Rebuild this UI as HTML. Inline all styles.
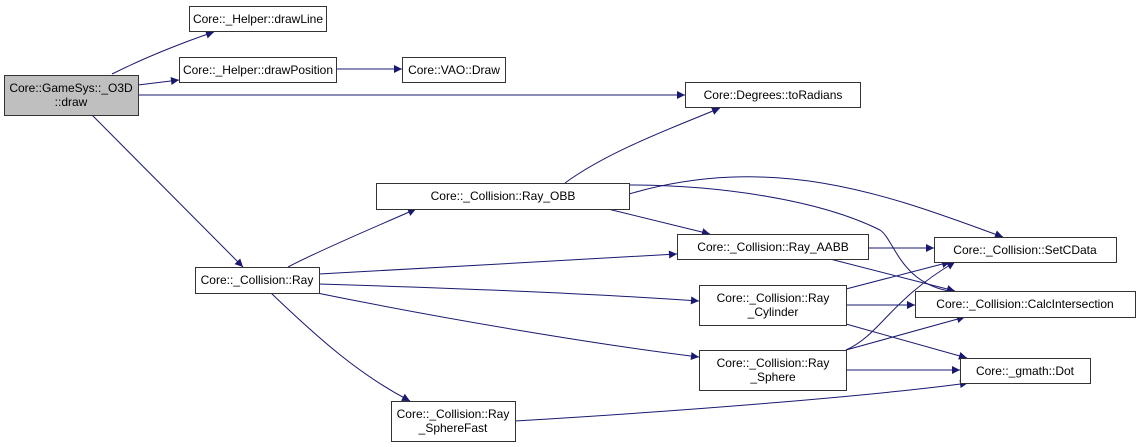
<!DOCTYPE html>
<html><head><style>
body{margin:0;background:#fff;}
svg{display:block}
text{font-family:"Liberation Sans",Arial,sans-serif;font-size:12px;fill:#000}
</style></head><body>
<svg width="1140" height="447" viewBox="0 0 1140 447">
<defs><marker id="a" viewBox="0 0 10 10" refX="10" refY="5" markerWidth="10" markerHeight="8" markerUnits="userSpaceOnUse" orient="auto"><path d="M0,0L10,5L0,10z" fill="#191970"/></marker></defs>
<g fill="none" stroke="#191970" stroke-width="1" marker-end="url(#a)">
<path d="M112,74 C150,55 190,40 214,32"/>
<path d="M138,85 L179,80"/>
<path d="M336,69 L402,69"/>
<path d="M138,95 L685,95"/>
<path d="M92,115 L243,267"/>
<path d="M288,267 C320,250 380,225 416,209"/>
<path d="M319,274 C420,268 580,260 677,254"/>
<path d="M319,284 C450,288 600,294 699,301"/>
<path d="M317,293 C450,320 600,345 699,357"/>
<path d="M271,293 C320,340 360,375 410,401"/>
<path d="M565,183 C610,150 680,125 720,108"/>
<path d="M629,194 C780,150 900,200 1003,237"/>
<path d="M629,185 C720,185 820,200 880,230 C895,240 900,285 955,292"/>
<path d="M608,209 L710,234"/>
<path d="M868,248 L934,248"/>
<path d="M830,259 L955,291"/>
<path d="M846,289 L950,262"/>
<path d="M846,305 L915,305"/>
<path d="M846,324 L967,358"/>
<path d="M846,350 C880,335 890,300 955,262"/>
<path d="M846,350 L965,317"/>
<path d="M846,370 L960,370"/>
<path d="M515,421 C700,410 880,395 968,383"/>
</g>
<g stroke="#333" stroke-width="1">
<rect x="4.5" y="75.5" width="134" height="40" fill="#bfbfbf"/>
<rect x="189.5" y="6.5" width="137" height="25" fill="#fff"/>
<rect x="179.5" y="57.5" width="157" height="25" fill="#fff"/>
<rect x="402.5" y="57.5" width="103" height="25" fill="#fff"/>
<rect x="685.5" y="82.5" width="175" height="25" fill="#fff"/>
<rect x="195.5" y="267.5" width="124" height="26" fill="#fff"/>
<rect x="376.5" y="183.5" width="253" height="26" fill="#fff"/>
<rect x="391.5" y="401.5" width="124" height="40" fill="#fff"/>
<rect x="677.5" y="234.5" width="191" height="25" fill="#fff"/>
<rect x="699.5" y="285.5" width="147" height="40" fill="#fff"/>
<rect x="699.5" y="350.5" width="147" height="40" fill="#fff"/>
<rect x="934.5" y="237.5" width="182" height="25" fill="#fff"/>
<rect x="915.5" y="291.5" width="220" height="26" fill="#fff"/>
<rect x="960.5" y="358.5" width="130" height="25" fill="#fff"/>
</g>
<g text-anchor="middle">
<text x="71" y="92">Core::GameSys::_O3D</text><text x="71" y="106">::draw</text>
<text x="258" y="23">Core::_Helper::drawLine</text>
<text x="258" y="74">Core::_Helper::drawPosition</text>
<text x="454" y="74">Core::VAO::Draw</text>
<text x="773" y="99">Core::Degrees::toRadians</text>
<text x="257" y="284">Core::_Collision::Ray</text>
<text x="503" y="200">Core::_Collision::Ray_OBB</text>
<text x="453" y="418">Core::_Collision::Ray</text><text x="453" y="432">_SphereFast</text>
<text x="773" y="251">Core::_Collision::Ray_AABB</text>
<text x="773" y="302">Core::_Collision::Ray</text><text x="773" y="316">_Cylinder</text>
<text x="773" y="367">Core::_Collision::Ray</text><text x="773" y="381">_Sphere</text>
<text x="1025" y="254">Core::_Collision::SetCData</text>
<text x="1025" y="308">Core::_Collision::CalcIntersection</text>
<text x="1025" y="375">Core::_gmath::Dot</text>
</g>
</svg>
</body></html>
